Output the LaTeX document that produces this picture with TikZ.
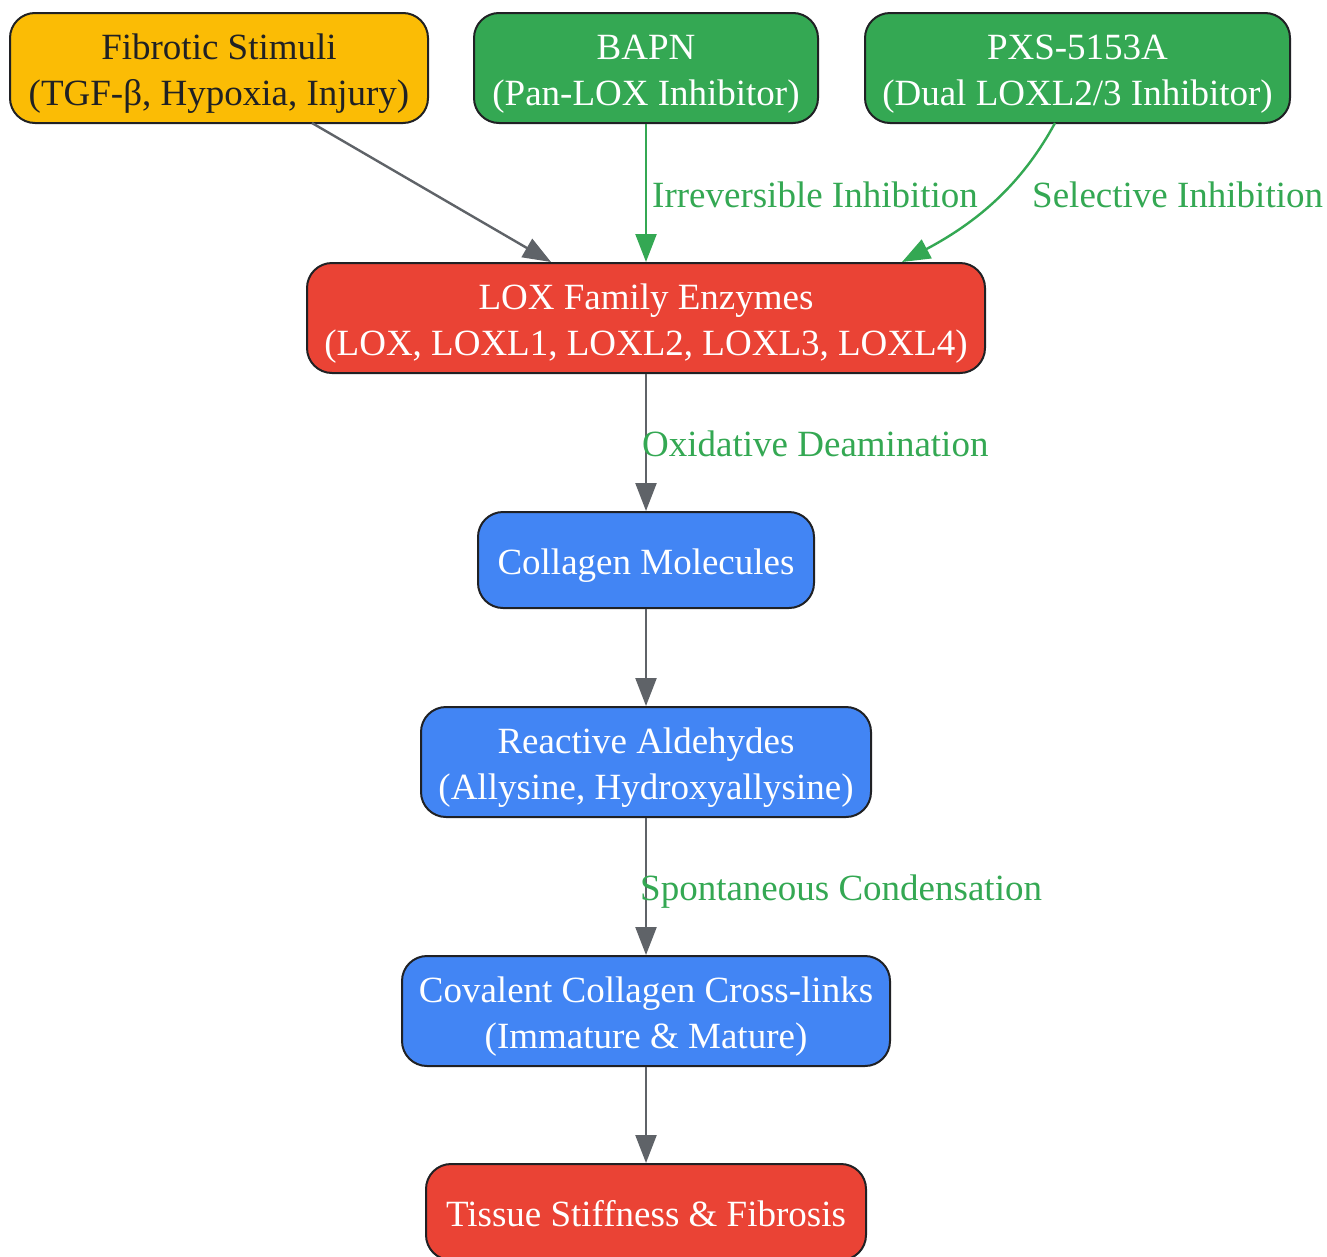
\documentclass[tikz,border=0pt]{standalone}
\usepackage{fontspec}
\setmainfont{Liberation Serif}
\usetikzlibrary{arrows.meta}
\definecolor{cyellow}{HTML}{FBBC05}
\definecolor{cgreen}{HTML}{34A853}
\definecolor{cred}{HTML}{EA4335}
\definecolor{cblue}{HTML}{4285F4}
\definecolor{cgray}{HTML}{5F6368}
\definecolor{cdark}{HTML}{202124}
\newcommand\lst{\rule[-8pt]{0pt}{45pt}}
\begin{document}
\begin{tikzpicture}[x=1pt,y=-1pt,
  box/.style={draw=cdark, line width=2pt, rounded corners=25pt, align=center,
    inner sep=0pt, font=\fontsize{37}{44}\selectfont, text=white},
  two/.style={minimum height=110pt},
  one/.style={minimum height=96pt},
  conn/.style={draw=cgray, line width=2.4pt, -{Triangle[length=28pt,width=21pt]}},
  inh/.style={draw=cgreen, line width=2.4pt, -{Triangle[length=28pt,width=21pt]}},
  lbl/.style={text=cgreen, font=\fontsize{37}{44}\selectfont, inner sep=0pt}]
\useasboundingbox (0,0) rectangle (1327,1256);
\node[box, two, fill=cyellow, text=cdark, minimum width=418pt] (stim) at (219,68) {\lst Fibrotic Stimuli\\\lst (TGF-β, Hypoxia, Injury)};
\node[box, two, fill=cgreen, minimum width=344pt] (bapn) at (646,68) {\lst BAPN\\\lst (Pan-LOX Inhibitor)};
\node[box, two, fill=cgreen, minimum width=425pt] (pxs) at (1077.5,68) {\lst PXS-5153A\\\lst (Dual LOXL2/3 Inhibitor)};
\node[box, two, fill=cred, minimum width=678pt] (lox) at (646,318) {\lst LOX Family Enzymes\\\lst (LOX, LOXL1, LOXL2, LOXL3, LOXL4)};
\node[box, one, fill=cblue, minimum width=336pt] (coll) at (646,560) {\lst Collagen Molecules};
\node[box, two, fill=cblue, minimum width=450pt] (ald) at (646,762) {\lst Reactive Aldehydes\\\lst (Allysine, Hydroxyallysine)};
\node[box, two, fill=cblue, minimum width=488pt] (cov) at (646,1011) {\lst Covalent Collagen Cross-links\\\lst (Immature \& Mature)};
\node[box, one, fill=cred, minimum width=440pt] (tis) at (646,1212) {\lst Tissue Stiffness \& Fibrosis};

\coordinate (stimOut) at (312,123);
\coordinate (loxInA) at (551,262);
\draw[conn] (stimOut) -- (loxInA);
\draw[inh] (bapn.south) -- (lox.north) node[lbl, midway, anchor=west, xshift=5pt, yshift=-2pt] {Irreversible Inhibition};
\coordinate (pxsOut) at (1055,123);
\coordinate (loxInB) at (902,262);
\draw[inh] (pxsOut) .. controls (1025,178) and (985,218) .. (loxInB);
\node[lbl, anchor=west] (selLbl) at (1032,195) {Selective Inhibition};
\draw[conn] (lox.south) -- (coll.north) node[lbl, midway, anchor=west, xshift=-5pt, yshift=-1pt] {Oxidative Deamination};
\draw[conn] (coll.south) -- (ald.north);
\draw[conn] (ald.south) -- (cov.north) node[lbl, midway, anchor=west, xshift=-7pt, yshift=-5pt] {Spontaneous Condensation};
\draw[conn] (cov.south) -- (tis.north);
\end{tikzpicture}
\end{document}
